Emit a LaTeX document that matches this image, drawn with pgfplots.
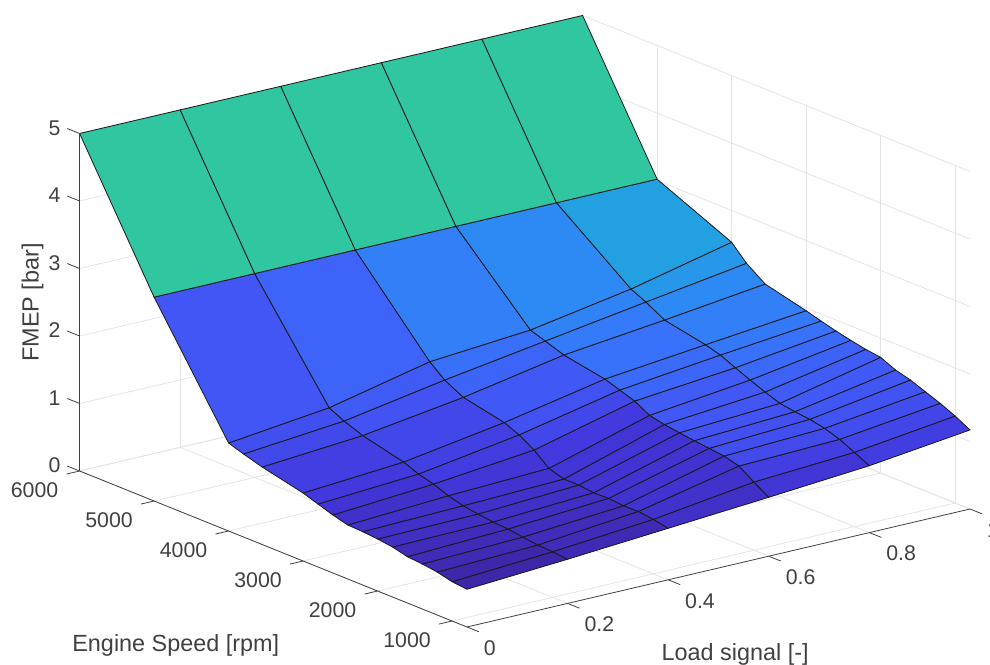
\documentclass[border=0pt]{standalone}
\usepackage{fontspec}
\setmainfont{Liberation Sans}
\usepackage{pgfplots}
\usepackage{pgfplotstable}
\pgfplotsset{compat=1.18}
\definecolor{axc}{RGB}{64,64,64}
\pgfplotstableread{
L S z
0 800 .559
.2 800 .654
.4 800 .763
.6 800 .873
.8 800 .991
1 800 1.171
0 1000 .582
.2 1000 .677
.4 1000 .807
.6 1000 1.010
.8 1000 1.101
1 1000 1.289
0 1200 .637
.2 1200 .687
.4 1200 .835
.6 1200 1.159
.8 1200 1.204
1 1200 1.388
0 1400 .667
.2 1400 .717
.4 1400 .831
.6 1400 1.218
.8 1400 1.279
1 1400 1.471
0 1600 .686
.2 1600 .747
.4 1600 .852
.6 1600 1.243
.8 1600 1.323
1 1600 1.556
0 1800 .741
.2 1800 .762
.4 1800 .846
.6 1800 1.267
.8 1800 1.347
1 1800 1.615
0 2000 .770
.2 2000 .791
.4 2000 .871
.6 2000 1.296
.8 2000 1.382
1 2000 1.714
0 2200 .790
.2 2200 .825
.4 2200 .871
.6 2200 1.329
.8 2200 1.461
1 2200 1.743
0 2400 .800
.2 2400 .884
.4 2400 .941
.6 2400 1.376
.8 2400 1.55
1 2400 1.788
0 2600 .859
.2 2600 .968
.4 2600 1.123
.6 2600 1.499
.8 2600 1.643
1 2600 1.838
0 2800 .933
.2 2800 1.028
.4 2800 1.259
.6 2800 1.573
.8 2800 1.742
1 2800 1.896
0 3000 1.007
.2 3000 1.117
.4 3000 1.353
.6 3000 1.647
.8 3000 1.806
1 3000 1.96
0 3550 1.148
.2 3550 1.265
.4 3550 1.481
.6 3550 1.759
.8 3550 1.927
1 3550 2.111
0 3800 1.230
.2 3800 1.369
.4 3800 1.627
.6 3800 1.855
.8 3800 2.083
1 3800 2.307
0 4000 1.304
.2 4000 1.477
.4 4000 1.809
.6 4000 1.929
.8 4000 2.187
1 4000 2.53
0 5000 3.02
.2 5000 3.02
.4 5000 3.02
.6 5000 3.02
.8 5000 3.02
1 5000 3.02
0 6000 5
.2 6000 5
.4 6000 5
.6 6000 5
.8 6000 5
1 6000 5
}\surfdata
\begin{document}
\begin{tikzpicture}
\path[use as bounding box] (-467pt,-37pt) rectangle (523pt,627pt);
\begin{axis}[
  at={(0pt,0pt)},anchor=origin,
  x={(503pt,118pt)},y={(-0.0745pt,0.03pt)},z={(0pt,67.5pt)},
  xmin=0,xmax=1,ymin=800,ymax=6000,zmin=0,zmax=5,
  clip=false,
  xtick={0,.2,.4,.6,.8,1},ytick={1000,2000,3000,4000,5000,6000},ztick={0,1,2,3,4,5},
  xticklabels={0,0.2,0.4,0.6,0.8,1},
  yticklabels={1000,2000,3000,4000,5000,6000},
  zticklabels={0,1,2,3,4,5},
  grid=major,
  major grid style={line width=.8pt,color=black!11},
  axis line style={draw=none},
  tickpos=left,
  major tick length=0pt,
  ticklabel style={font=\fontsize{21.3}{24}\selectfont,text=axc,inner sep=0pt,outer sep=0pt},
  xticklabel style={anchor=west,xshift=17pt,yshift=-21pt},
  yticklabel style={anchor=center,xshift=-45pt,yshift=-19pt},
  zticklabel style={anchor=center,xshift=-25pt,yshift=5.5pt},
  label style={font=\fontsize{23.4}{26}\selectfont,text=axc},
  xlabel={Load signal [-]},
  xlabel style={at={(axis cs:0.259,-1050,0)},anchor=center,yshift=-2.5pt},
  ylabel={Engine Speed [rpm]},
  ylabel style={at={(axis cs:-0.416,1900,0)},anchor=center,rotate=0,yshift=-2pt},
  zlabel={FMEP [bar]},
  zlabel style={at={(axis cs:-0.0934,6000,2.66)},anchor=center,rotate=0},
  colormap={fmep}{rgb255(0cm)=(62,38,168); rgb255(0.8cm)=(66,55,220); rgb255(1.67cm)=(66,85,245); rgb255(2.5cm)=(55,115,252); rgb255(3.1cm)=(45,138,243); rgb255(3.67cm)=(35,160,225); rgb255(5.54cm)=(48,198,160); rgb255(10cm)=(48,198,160)},
  point meta min=0.56,point meta max=5,
]
\addplot3[surf,shader=flat corner,draw=black!90,line width=.8pt,z buffer=none,mesh/cols=6,mesh/ordering=x varies,point meta=\thisrow{z}] table[x=L,y=S,z=z] {\surfdata};
\addplot3[axc,line width=.8pt,no marks] coordinates {(0,6000,0)(0,800,0)};
\addplot3[axc,line width=.8pt,no marks] coordinates {(0,800,0)(1,800,0)};
\addplot3[axc,line width=.8pt,no marks] coordinates {(0,6000,0)(0,6000,5)};
\pgfplotsinvokeforeach{0,.2,.4,.6,.8,1}{\addplot3[axc,line width=.8pt,no marks] coordinates {(#1,800,0)(#1,640,0)};}
\pgfplotsinvokeforeach{1000,2000,3000,4000,5000,6000}{\addplot3[axc,line width=.8pt,no marks] coordinates {(0,#1,0)(-.026,#1,0)};}
\pgfplotsinvokeforeach{0,1,2,3,4,5}{\addplot3[axc,line width=.8pt,no marks] coordinates {(0,6000,#1)(0,6165,#1)};}
\end{axis}
\end{tikzpicture}
\end{document}
